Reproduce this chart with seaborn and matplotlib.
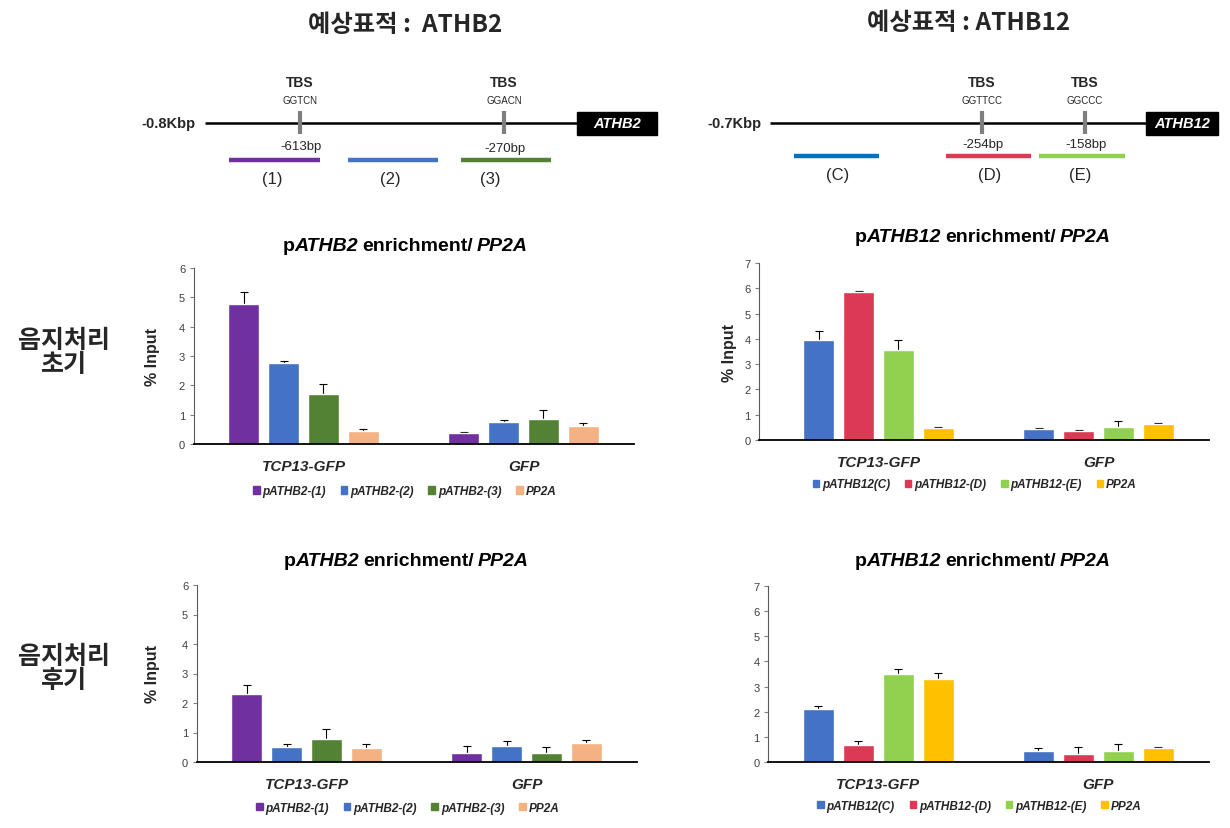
import numpy as np
import pandas as pd
import matplotlib
matplotlib.use("Agg")
import matplotlib.pyplot as plt
from matplotlib.patches import Patch, Rectangle
from matplotlib.font_manager import FontProperties
import seaborn as sns

groups = ["TCP13-GFP", "GFP"]

athb2_primers = ["pATHB2-(1)", "pATHB2-(2)", "pATHB2-(3)", "PP2A"]
athb12_primers = ["pATHB12(C)", "pATHB12-(D)", "pATHB12-(E)", "PP2A"]

# 음지처리 초기
athb2_early_tcp = [4.76, 2.75, 1.70, 0.44]
athb2_early_tcp_err = [0.41, 0.09, 0.33, 0.06]
athb2_early_gfp = [0.38, 0.75, 0.85, 0.61]
athb2_early_gfp_err = [0.04, 0.07, 0.30, 0.10]

athb12_early_tcp = [3.96, 5.87, 3.57, 0.49]
athb12_early_tcp_err = [0.35, 0.02, 0.38, 0.02]
athb12_early_gfp = [0.44, 0.37, 0.52, 0.65]
athb12_early_gfp_err = [0.02, 0.03, 0.23, 0.02]

# 음지처리 후기
athb2_late_tcp = [2.32, 0.52, 0.79, 0.49]
athb2_late_tcp_err = [0.28, 0.09, 0.34, 0.11]
athb2_late_gfp = [0.32, 0.55, 0.32, 0.66]
athb2_late_gfp_err = [0.23, 0.16, 0.20, 0.09]

athb12_late_tcp = [2.11, 0.69, 3.50, 3.30]
athb12_late_tcp_err = [0.10, 0.14, 0.20, 0.24]
athb12_late_gfp = [0.45, 0.33, 0.42, 0.57]
athb12_late_gfp_err = [0.10, 0.28, 0.29, 0.02]

athb2_colors = ["#7030A0", "#4472C4", "#548235", "#F4B183"]
athb12_colors = ["#4472C4", "#DC3A54", "#92D050", "#FFC000"]

sns.set_style("white")
plt.rcParams["font.family"] = ["Liberation Sans", "Noto Sans CJK KR", "DejaVu Sans"]

W, H = 1230, 829
fig = plt.figure(figsize=(W / 100, H / 100), dpi=100)

# overlay in pixel coordinates for schematics and free text
ov = fig.add_axes([0, 0, 1, 1])
ov.set_xlim(0, W)
ov.set_ylim(H, 0)
ov.axis("off")
ov.set_zorder(-1)

KR = ["Noto Sans CJK KR", "DejaVu Sans"]


def px_rect(left, right, top, bottom):
    return [left / W, (H - bottom) / H, (right - left) / W, (bottom - top) / H]


def rich_title(xc, y, parts, size=14):
    renderer = fig.canvas.get_renderer()
    items = []
    for s, style, gap in parts:
        t = ov.text(0, y, s, fontsize=size, fontweight="bold", fontstyle=style,
                    ha="left", va="center", color="black")
        items.append((t, t.get_window_extent(renderer).width, gap))
    total = sum(w + g for _, w, g in items)
    x = xc - total / 2
    for t, w, g in items:
        x += g
        t.set_x(x)
        x += w


def schematic(label, gene, line_x, box_x, y0, sites, frags):
    ov.text(line_x[0] - 9, y0, label, fontsize=10.5, fontweight="bold", ha="right", va="center")
    ov.plot(line_x, [y0, y0], color="black", lw=1.8, solid_capstyle="butt")
    ov.add_patch(Rectangle((box_x[0], y0 - 11.5), box_x[1] - box_x[0], 23, color="black"))
    ov.text(sum(box_x) / 2, y0, gene, color="white", fontsize=10.5, fontweight="bold",
            fontstyle="italic", ha="center", va="center")
    for sx, motif, bp, bpy in sites:
        ov.plot([sx, sx], [y0 - 12, y0 + 11], color="#7F7F7F", lw=3, solid_capstyle="butt")
        ov.text(sx, 83, "TBS", fontsize=10, fontweight="bold", ha="center", va="center")
        ov.text(sx, 101, motif, fontsize=7, ha="center", va="center", color="#262626")
        ov.text(sx + 1, bpy, bp, fontsize=9.5, ha="center", va="center", color="#262626")
    for fx0, fx1, fy, col, name, nx, ny in frags:
        ov.plot([fx0, fx1], [fy, fy], color=col, lw=3.2, solid_capstyle="butt")
        ov.text(nx, ny, name, fontsize=12, ha="center", va="center", color="#262626")


ov.text(405, 25, "예상표적 :  ATHB2", family=KR, fontsize=17.5, fontweight="bold",
        ha="center", va="center")
ov.text(969, 23, "예상표적 : ATHB12", family=KR, fontsize=17.5, fontweight="bold",
        ha="center", va="center")

schematic("-0.8Kbp", "ATHB2", [205, 577], [577, 657], 124,
          [(300, "GGTCN", "-613bp", 147), (504, "GGACN", "-270bp", 149)],
          [(229, 320, 161, athb2_colors[0], "(1)", 272, 179),
           (348, 438, 161, athb2_colors[1], "(2)", 390, 179),
           (461, 551, 161, athb2_colors[2], "(3)", 490, 179)])
schematic("-0.7Kbp", "ATHB12", [770, 1146], [1146, 1218], 124,
          [(982, "GGTTCC", "-254bp", 145), (1085, "GGCCC", "-158bp", 145)],
          [(794, 879, 157, "#0070C0", "(C)", 838, 175),
           (946, 1031, 157, athb12_colors[1], "(D)", 990, 175),
           (1039, 1125, 157, athb12_colors[2], "(E)", 1080, 175)])

ov.text(64, 353, "음지처리\n초기", family=KR, fontsize=18, fontweight="bold",
        ha="center", va="center", linespacing=1.0)
ov.text(64, 669, "음지처리\n후기", family=KR, fontsize=18, fontweight="bold",
        ha="center", va="center", linespacing=1.0)


def bar_panel(rect, primers, colors, tcp, gfp, tcp_err, gfp_err, ymax,
              ylabel_off=None, xlim_left=-0.5, legend_y=-0.27):
    left, right, top, bottom = rect
    ax = fig.add_axes(px_rect(*rect))
    df = pd.DataFrame({
        "group": [groups[0]] * 4 + [groups[1]] * 4,
        "primer": primers + primers,
        "value": tcp + gfp,
    })
    sns.barplot(data=df, x="group", y="value", hue="primer", order=groups,
                hue_order=primers, palette=colors, width=0.727, gap=0.225,
                saturation=1, errorbar=None, legend=False, ax=ax, zorder=2)
    # error bars sit behind the bars so only the upper half shows
    bar_sets = list(ax.containers)
    for i, cont in enumerate(bar_sets):
        xs = [p.get_x() + p.get_width() / 2 for p in cont]
        ys = [p.get_height() for p in cont]
        e = [tcp_err[i], gfp_err[i]]
        ax.errorbar(xs, ys, yerr=e, fmt="none", ecolor="black",
                    elinewidth=0.8, capsize=3.2, capthick=0.8, zorder=1)
    ax.set_ylim(0, ymax)
    ax.set_yticks(range(ymax + 1))
    ax.set_xlim(xlim_left, 1.5)
    for s in ["top", "right"]:
        ax.spines[s].set_visible(False)
    ax.spines["left"].set_color("#595959")
    ax.spines["left"].set_linewidth(0.8)
    ax.spines["bottom"].set_color("black")
    ax.spines["bottom"].set_linewidth(1.3)
    ax.spines["bottom"].set_zorder(3)
    ax.tick_params(axis="y", left=True, length=3, width=0.8, color="#808080",
                   labelsize=8, labelcolor="#404040", pad=3)
    ax.tick_params(axis="x", length=0, pad=11)
    for lab in ax.get_xticklabels():
        lab.set_fontsize(11)
        lab.set_fontweight("bold")
        lab.set_fontstyle("italic")
    ax.set_xlabel("")
    if ylabel_off is not None:
        ax.set_ylabel("% Input", fontsize=11.5, fontweight="bold")
        ax.yaxis.set_label_coords(-ylabel_off / (right - left), 0.5)
    else:
        ax.set_ylabel("")
    handles = [Patch(color=c, label=p) for c, p in zip(colors, primers)]
    ax.legend(handles=handles, loc="center", bbox_to_anchor=(0.48, legend_y),
              ncol=4, frameon=False, handlelength=0.55, handleheight=0.55,
              handletextpad=0.25, columnspacing=1.25,
              prop=FontProperties(family="Liberation Sans", weight="bold",
                                  style="italic", size=8.5))
    return ax


bar_panel((193.5, 633.5, 269, 445), athb2_primers, athb2_colors,
          athb2_early_tcp, athb2_early_gfp, athb2_early_tcp_err, athb2_early_gfp_err, 6,
          ylabel_off=33, legend_y=-0.268)
bar_panel((759, 1208.5, 264, 441), athb12_primers, athb12_colors,
          athb12_early_tcp, athb12_early_gfp, athb12_early_tcp_err, athb12_early_gfp_err, 7,
          ylabel_off=22, xlim_left=-0.5 - 9.5 / 220, legend_y=-0.25)
bar_panel((196.5, 636.5, 586, 763), athb2_primers, athb2_colors,
          athb2_late_tcp, athb2_late_gfp, athb2_late_tcp_err, athb2_late_gfp_err, 6,
          ylabel_off=36, legend_y=-0.26)
bar_panel((768, 1208.5, 587, 763), athb12_primers, athb12_colors,
          athb12_late_tcp, athb12_late_gfp, athb12_late_tcp_err, athb12_late_gfp_err, 7,
          legend_y=-0.25)

rich_title(405, 246, [("p", "normal", 0), ("ATHB2", "italic", 0),
                      ("enrichment/", "normal", 4), ("PP2A", "italic", 4)])
rich_title(983, 237, [("p", "normal", 0), ("ATHB12", "italic", 0),
                      ("enrichment/", "normal", 4), ("PP2A", "italic", 4)])
rich_title(406, 562, [("p", "normal", 0), ("ATHB2", "italic", 0),
                      ("enrichment/", "normal", 4), ("PP2A", "italic", 4)])
rich_title(983, 561, [("p", "normal", 0), ("ATHB12", "italic", 0),
                      ("enrichment/", "normal", 4), ("PP2A", "italic", 4)])

fig.savefig("out.png", dpi=100)
